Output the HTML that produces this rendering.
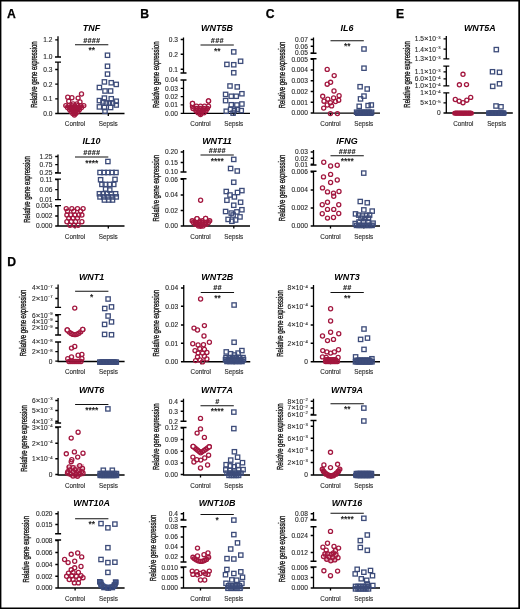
<!DOCTYPE html><html><head><meta charset="utf-8"><style>html,body{margin:0;padding:0;background:#fff;font-family:"Liberation Sans", sans-serif;}svg{display:block;will-change:transform;} .t{stroke:#2a2a2a;stroke-width:0.12px;} .yl{stroke:#1a1a1a;stroke-width:0.38px;}</style></head><body>
<svg width="520" height="609" viewBox="0 0 520 609" font-family='"Liberation Sans", sans-serif'>
<rect x="0" y="0" width="520" height="609" fill="#fff"/>
<path d="M0 0H520V1.5H0Z M0 607.5H520V609H0Z M0 0H1.4V609H0Z M518.3 0H520V609H518.3Z" fill="#000"/>
<text x="7.0" y="17.6" font-size="12.2" font-weight="bold" fill="#000" stroke="#000" stroke-width="0.25">A</text>
<text x="140.3" y="17.6" font-size="12.2" font-weight="bold" fill="#000" stroke="#000" stroke-width="0.25">B</text>
<text x="265.8" y="17.5" font-size="12.2" font-weight="bold" fill="#000" stroke="#000" stroke-width="0.25">C</text>
<text x="396.0" y="17.6" font-size="12.2" font-weight="bold" fill="#000" stroke="#000" stroke-width="0.25">E</text>
<text x="7.3" y="265.6" font-size="12.2" font-weight="bold" fill="#000" stroke="#000" stroke-width="0.25">D</text>
<text x="91.5" y="30.9" text-anchor="middle" font-size="8.95" font-weight="bold" font-style="italic" fill="#000">TNF</text>
<path d="M58 36.3V57M55 57H61M58 62.2V113.5M55 62.2H61M55.2 39.9H58M55.2 57H58M55.2 69.5H58M55.2 84.2H58M55.2 98.8H58M55.2 113.5H58M57.4 113.5H124.5M75 113.5V116.1M108.3 113.5V116.1" stroke="#000" stroke-width="1.3" fill="none"/>
<text class="t" x="52.4" y="42.2" text-anchor="end" font-size="6.6" fill="#2a2a2a">1.2</text>
<text class="t" x="52.4" y="59.3" text-anchor="end" font-size="6.6" fill="#2a2a2a">1.0</text>
<text class="t" x="52.4" y="71.8" text-anchor="end" font-size="6.6" fill="#2a2a2a">0.3</text>
<text class="t" x="52.4" y="86.5" text-anchor="end" font-size="6.6" fill="#2a2a2a">0.2</text>
<text class="t" x="52.4" y="101.1" text-anchor="end" font-size="6.6" fill="#2a2a2a">0.1</text>
<text class="t" x="52.4" y="115.8" text-anchor="end" font-size="6.6" fill="#2a2a2a">0.0</text>
<text class="yl" transform="translate(37 74.6) rotate(-90)" text-anchor="middle" font-size="8.4" textLength="66.5" lengthAdjust="spacingAndGlyphs" fill="#2a2a2a">Relative gene expression</text>
<text class="t" x="75" y="126.1" text-anchor="middle" font-size="6.3" fill="#2a2a2a">Control</text>
<text class="t" x="108.3" y="126.1" text-anchor="middle" font-size="6.3" fill="#2a2a2a">Sepsis</text>
<path d="M75 44.7H108.3" stroke="#111" stroke-width="1.1"/>
<text x="91.82" y="42.6" text-anchor="middle" font-size="7.1" font-weight="bold" font-style="italic" fill="#222" stroke="#222" stroke-width="0.15" letter-spacing="0.35">####</text>
<text x="91.65" y="53.2" text-anchor="middle" font-size="8.4" font-weight="bold" fill="#222">**</text>
<polygon points="64,105.3 85.5,105.3 80.2,110 74.6,117 69,110" fill="#b5163f" fill-opacity="0.8"/>
<g fill="none" stroke="#a3173f" stroke-width="1.3"><circle cx="81.5" cy="94" r="2.05"/><circle cx="67.75" cy="97.25" r="2.05"/><circle cx="71.9" cy="97.75" r="2.05"/><circle cx="78.1" cy="98.1" r="2.05"/><circle cx="68.75" cy="101.25" r="2.05"/><circle cx="80" cy="101.9" r="2.05"/><circle cx="73.1" cy="104" r="2.05"/><circle cx="76.9" cy="104" r="2.05"/><circle cx="65.8" cy="105.6" r="2.05"/><circle cx="68.8" cy="105.6" r="2.05"/><circle cx="71.8" cy="105.6" r="2.05"/><circle cx="74.8" cy="105.6" r="2.05"/><circle cx="77.8" cy="105.6" r="2.05"/><circle cx="80.8" cy="105.6" r="2.05"/><circle cx="83.8" cy="105.6" r="2.05"/><circle cx="67.5" cy="107.6" r="2.05"/><circle cx="70.3" cy="107.6" r="2.05"/><circle cx="73.1" cy="107.6" r="2.05"/><circle cx="75.9" cy="107.6" r="2.05"/><circle cx="78.7" cy="107.6" r="2.05"/><circle cx="81.5" cy="107.6" r="2.05"/><circle cx="69.5" cy="109.6" r="2.05"/><circle cx="72" cy="109.6" r="2.05"/><circle cx="74.5" cy="109.6" r="2.05"/><circle cx="77" cy="109.6" r="2.05"/><circle cx="79.5" cy="109.6" r="2.05"/><circle cx="71" cy="111.6" r="2.05"/><circle cx="73.33" cy="111.6" r="2.05"/><circle cx="75.66" cy="111.6" r="2.05"/><circle cx="77.99" cy="111.6" r="2.05"/><circle cx="72.8" cy="113.4" r="2.05"/><circle cx="75.8" cy="113.4" r="2.05"/><circle cx="74.4" cy="115" r="2.05"/></g>
<g fill="none" stroke="#3d4c7a" stroke-width="1.3"><rect x="105.35" y="53.1" width="4.3" height="4.3"/><rect x="105.35" y="64.1" width="4.3" height="4.3"/><rect x="105.35" y="71.95" width="4.3" height="4.3"/><rect x="102.25" y="79.75" width="4.3" height="4.3"/><rect x="109.1" y="80.6" width="4.3" height="4.3"/><rect x="114.1" y="82.25" width="4.3" height="4.3"/><rect x="97.25" y="85.35" width="4.3" height="4.3"/><rect x="102.85" y="88.85" width="4.3" height="4.3"/><rect x="108.45" y="88.85" width="4.3" height="4.3"/><rect x="102.25" y="95.95" width="4.3" height="4.3"/><rect x="109.1" y="96.6" width="4.3" height="4.3"/><rect x="97.25" y="98.45" width="4.3" height="4.3"/><rect x="114.1" y="99.1" width="4.3" height="4.3"/><rect x="100.85" y="99.75" width="4.3" height="4.3"/><rect x="104.1" y="100.95" width="4.3" height="4.3"/><rect x="107.25" y="100.95" width="4.3" height="4.3"/><rect x="110.35" y="100.95" width="4.3" height="4.3"/><rect x="114.1" y="102.85" width="4.3" height="4.3"/><rect x="97.25" y="104.75" width="4.3" height="4.3"/><rect x="102.25" y="105.35" width="4.3" height="4.3"/><rect x="108.45" y="105.35" width="4.3" height="4.3"/><rect x="102.85" y="109.1" width="4.3" height="4.3"/></g>
<text x="91.5" y="144.2" text-anchor="middle" font-size="8.95" font-weight="bold" font-style="italic" fill="#000">IL10</text>
<path d="M58 154.6V173M55 173H61M58 179.2V199.6M55 199.6H61M55 179.2H61M58 205.6V226M55 205.6H61M55.2 156.5H58M55.2 164.6H58M55.2 172.7H58M55.2 179.6H58M55.2 189.6H58M55.2 199.6H58M55.2 206H58M55.2 216H58M55.2 226H58M57.4 226H124.5M75 226V228.6M108.3 226V228.6" stroke="#000" stroke-width="1.3" fill="none"/>
<text class="t" x="52.4" y="158.8" text-anchor="end" font-size="6.6" fill="#2a2a2a">1.25</text>
<text class="t" x="52.4" y="166.9" text-anchor="end" font-size="6.6" fill="#2a2a2a">0.75</text>
<text class="t" x="52.4" y="175" text-anchor="end" font-size="6.6" fill="#2a2a2a">0.25</text>
<text class="t" x="52.4" y="181.9" text-anchor="end" font-size="6.6" fill="#2a2a2a">0.11</text>
<text class="t" x="52.4" y="191.9" text-anchor="end" font-size="6.6" fill="#2a2a2a">0.06</text>
<text class="t" x="52.4" y="201.9" text-anchor="end" font-size="6.6" fill="#2a2a2a">0.01</text>
<text class="t" x="52.4" y="208.3" text-anchor="end" font-size="6.6" fill="#2a2a2a">0.004</text>
<text class="t" x="52.4" y="218.3" text-anchor="end" font-size="6.6" fill="#2a2a2a">0.002</text>
<text class="t" x="52.4" y="228.3" text-anchor="end" font-size="6.6" fill="#2a2a2a">0.000</text>
<text class="yl" transform="translate(30.1 189.5) rotate(-90)" text-anchor="middle" font-size="8.4" textLength="66.5" lengthAdjust="spacingAndGlyphs" fill="#2a2a2a">Relative gene expression</text>
<text class="t" x="75" y="238.6" text-anchor="middle" font-size="6.3" fill="#2a2a2a">Control</text>
<text class="t" x="108.3" y="238.6" text-anchor="middle" font-size="6.3" fill="#2a2a2a">Sepsis</text>
<path d="M75 157H108.3" stroke="#111" stroke-width="1.1"/>
<text x="91.82" y="154.9" text-anchor="middle" font-size="7.1" font-weight="bold" font-style="italic" fill="#222" stroke="#222" stroke-width="0.15" letter-spacing="0.35">####</text>
<text x="91.65" y="165.5" text-anchor="middle" font-size="8.4" font-weight="bold" fill="#222">****</text>
<g fill="none" stroke="#a3173f" stroke-width="1.3"><circle cx="66.25" cy="208.6" r="2.05"/><circle cx="71.87" cy="208.6" r="2.05"/><circle cx="77.49" cy="208.6" r="2.05"/><circle cx="83.11" cy="208.6" r="2.05"/><circle cx="67.5" cy="211.25" r="2.05"/><circle cx="73.75" cy="211.25" r="2.05"/><circle cx="80.6" cy="211.25" r="2.05"/><circle cx="66.9" cy="215" r="2.05"/><circle cx="70.6" cy="215" r="2.05"/><circle cx="75" cy="215" r="2.05"/><circle cx="78.75" cy="215" r="2.05"/><circle cx="81.9" cy="215" r="2.05"/><circle cx="68.75" cy="218.1" r="2.05"/><circle cx="73.1" cy="218.1" r="2.05"/><circle cx="77.5" cy="218.1" r="2.05"/><circle cx="66.9" cy="221.75" r="2.05"/><circle cx="71.25" cy="221.75" r="2.05"/><circle cx="75.6" cy="221.75" r="2.05"/><circle cx="81.9" cy="221.75" r="2.05"/><circle cx="70" cy="225.2" r="2.05"/><circle cx="74.4" cy="225.2" r="2.05"/><circle cx="78.1" cy="225.2" r="2.05"/></g>
<g fill="none" stroke="#3d4c7a" stroke-width="1.3"><rect x="105.75" y="159.35" width="4.3" height="4.3"/><rect x="97.85" y="170.35" width="4.3" height="4.3"/><rect x="101.85" y="170.35" width="4.3" height="4.3"/><rect x="105.85" y="170.35" width="4.3" height="4.3"/><rect x="109.85" y="170.35" width="4.3" height="4.3"/><rect x="113.85" y="170.35" width="4.3" height="4.3"/><rect x="98.45" y="177.6" width="4.3" height="4.3"/><rect x="112.85" y="177.25" width="4.3" height="4.3"/><rect x="99.75" y="182.25" width="4.3" height="4.3"/><rect x="103.1" y="182.25" width="4.3" height="4.3"/><rect x="107.85" y="182.25" width="4.3" height="4.3"/><rect x="111.6" y="182.25" width="4.3" height="4.3"/><rect x="103.45" y="186.85" width="4.3" height="4.3"/><rect x="107.6" y="187.85" width="4.3" height="4.3"/><rect x="97.25" y="191.6" width="4.3" height="4.3"/><rect x="100.95" y="191.6" width="4.3" height="4.3"/><rect x="104.75" y="191.6" width="4.3" height="4.3"/><rect x="109.1" y="191.6" width="4.3" height="4.3"/><rect x="113.45" y="191.6" width="4.3" height="4.3"/><rect x="97.85" y="194.75" width="4.3" height="4.3"/><rect x="101.6" y="194.75" width="4.3" height="4.3"/><rect x="105.95" y="194.75" width="4.3" height="4.3"/><rect x="110.35" y="194.75" width="4.3" height="4.3"/><rect x="114.1" y="194.75" width="4.3" height="4.3"/><rect x="102.25" y="197.85" width="4.3" height="4.3"/><rect x="106.6" y="197.85" width="4.3" height="4.3"/><rect x="110.35" y="197.85" width="4.3" height="4.3"/></g>
<text x="217" y="30.8" text-anchor="middle" font-size="8.95" font-weight="bold" font-style="italic" fill="#000">WNT5B</text>
<path d="M183.5 37.5V73M180.5 73H186.5M183.5 80V113.4M180.5 80H186.5M180.7 39.5H183.5M180.7 54.25H183.5M180.7 69.25H183.5M180.7 80H183.5M180.7 88.3H183.5M180.7 96.6H183.5M180.7 104.9H183.5M180.7 113.3H183.5M182.9 113.4H250M200.5 113.4V116M233.8 113.4V116" stroke="#000" stroke-width="1.3" fill="none"/>
<text class="t" x="177.9" y="41.8" text-anchor="end" font-size="6.6" fill="#2a2a2a">0.3</text>
<text class="t" x="177.9" y="56.55" text-anchor="end" font-size="6.6" fill="#2a2a2a">0.2</text>
<text class="t" x="177.9" y="71.55" text-anchor="end" font-size="6.6" fill="#2a2a2a">0.1</text>
<text class="t" x="177.9" y="82.3" text-anchor="end" font-size="6.6" fill="#2a2a2a">0.04</text>
<text class="t" x="177.9" y="90.6" text-anchor="end" font-size="6.6" fill="#2a2a2a">0.03</text>
<text class="t" x="177.9" y="98.9" text-anchor="end" font-size="6.6" fill="#2a2a2a">0.02</text>
<text class="t" x="177.9" y="107.2" text-anchor="end" font-size="6.6" fill="#2a2a2a">0.01</text>
<text class="t" x="177.9" y="115.6" text-anchor="end" font-size="6.6" fill="#2a2a2a">0.00</text>
<text class="yl" transform="translate(159.3 74.8) rotate(-90)" text-anchor="middle" font-size="8.4" textLength="66.5" lengthAdjust="spacingAndGlyphs" fill="#2a2a2a">Relative gene expression</text>
<text class="t" x="200.5" y="126" text-anchor="middle" font-size="6.3" fill="#2a2a2a">Control</text>
<text class="t" x="233.8" y="126" text-anchor="middle" font-size="6.3" fill="#2a2a2a">Sepsis</text>
<path d="M200.5 45H233.8" stroke="#111" stroke-width="1.1"/>
<text x="217.32" y="42.9" text-anchor="middle" font-size="7.1" font-weight="bold" font-style="italic" fill="#222" stroke="#222" stroke-width="0.15" letter-spacing="0.35">###</text>
<text x="217.15" y="53.5" text-anchor="middle" font-size="8.4" font-weight="bold" fill="#222">**</text>
<polygon points="190.8,107.2 210.8,107.2 207,111.5 200.5,116.6 194,111.5" fill="#b5163f" fill-opacity="0.75"/>
<g fill="none" stroke="#a3173f" stroke-width="1.3"><circle cx="192.5" cy="103.5" r="2.05"/><circle cx="208.5" cy="101" r="2.05"/><circle cx="192.5" cy="106.2" r="2.05"/><circle cx="196.5" cy="106.2" r="2.05"/><circle cx="200.5" cy="106.2" r="2.05"/><circle cx="204.5" cy="106.2" r="2.05"/><circle cx="208.5" cy="106.2" r="2.05"/><circle cx="193" cy="108.5" r="2.05"/><circle cx="196.6" cy="108.5" r="2.05"/><circle cx="200.2" cy="108.5" r="2.05"/><circle cx="203.8" cy="108.5" r="2.05"/><circle cx="207.4" cy="108.5" r="2.05"/><circle cx="196" cy="110.8" r="2.05"/><circle cx="199.33" cy="110.8" r="2.05"/><circle cx="202.66" cy="110.8" r="2.05"/><circle cx="205.99" cy="110.8" r="2.05"/><circle cx="198" cy="112.8" r="2.05"/><circle cx="201" cy="112.8" r="2.05"/><circle cx="204" cy="112.8" r="2.05"/><circle cx="200.5" cy="114.5" r="2.05"/></g>
<g fill="none" stroke="#3d4c7a" stroke-width="1.3"><rect x="231.6" y="49.75" width="4.3" height="4.3"/><rect x="238.45" y="59.1" width="4.3" height="4.3"/><rect x="224.75" y="62.25" width="4.3" height="4.3"/><rect x="231.6" y="62.6" width="4.3" height="4.3"/><rect x="231.6" y="70.6" width="4.3" height="4.3"/><rect x="227.85" y="83.85" width="4.3" height="4.3"/><rect x="235.1" y="84.75" width="4.3" height="4.3"/><rect x="223.45" y="92.25" width="4.3" height="4.3"/><rect x="239.75" y="91.6" width="4.3" height="4.3"/><rect x="229.1" y="94.1" width="4.3" height="4.3"/><rect x="234.1" y="94.1" width="4.3" height="4.3"/><rect x="223.45" y="98.45" width="4.3" height="4.3"/><rect x="229.1" y="102.6" width="4.3" height="4.3"/><rect x="234.75" y="102.85" width="4.3" height="4.3"/><rect x="239.75" y="101.85" width="4.3" height="4.3"/><rect x="224.1" y="109.1" width="4.3" height="4.3"/><rect x="228.45" y="107.25" width="4.3" height="4.3"/><rect x="232.25" y="108.45" width="4.3" height="4.3"/><rect x="235.35" y="107.25" width="4.3" height="4.3"/><rect x="239.1" y="108.45" width="4.3" height="4.3"/><rect x="230.95" y="110.95" width="4.3" height="4.3"/></g>
<g fill="#fff" stroke="#a3173f" stroke-width="1.3"><circle cx="192.5" cy="103.5" r="2.05"/><circle cx="208.5" cy="101" r="2.05"/></g>
<text x="217" y="143.9" text-anchor="middle" font-size="8.95" font-weight="bold" font-style="italic" fill="#000">WNT11</text>
<path d="M183.5 150V172M180.5 172H186.5M183.5 178.75V226M180.5 178.75H186.5M180.7 152H183.5M180.7 162.5H183.5M180.7 172H183.5M180.7 179.25H183.5M180.7 195H183.5M180.7 210.5H183.5M180.7 226H183.5M182.9 226H250M200.5 226V228.6M233.8 226V228.6" stroke="#000" stroke-width="1.3" fill="none"/>
<text class="t" x="177.9" y="154.3" text-anchor="end" font-size="6.6" fill="#2a2a2a">0.20</text>
<text class="t" x="177.9" y="164.8" text-anchor="end" font-size="6.6" fill="#2a2a2a">0.15</text>
<text class="t" x="177.9" y="174.3" text-anchor="end" font-size="6.6" fill="#2a2a2a">0.10</text>
<text class="t" x="177.9" y="181.55" text-anchor="end" font-size="6.6" fill="#2a2a2a">0.06</text>
<text class="t" x="177.9" y="197.3" text-anchor="end" font-size="6.6" fill="#2a2a2a">0.04</text>
<text class="t" x="177.9" y="212.8" text-anchor="end" font-size="6.6" fill="#2a2a2a">0.02</text>
<text class="t" x="177.9" y="228.3" text-anchor="end" font-size="6.6" fill="#2a2a2a">0.00</text>
<text class="yl" transform="translate(158.9 188.2) rotate(-90)" text-anchor="middle" font-size="8.4" textLength="66.5" lengthAdjust="spacingAndGlyphs" fill="#2a2a2a">Relative gene expression</text>
<text class="t" x="200.5" y="238.6" text-anchor="middle" font-size="6.3" fill="#2a2a2a">Control</text>
<text class="t" x="233.8" y="238.6" text-anchor="middle" font-size="6.3" fill="#2a2a2a">Sepsis</text>
<path d="M200.5 155H233.8" stroke="#111" stroke-width="1.1"/>
<text x="217.32" y="152.9" text-anchor="middle" font-size="7.1" font-weight="bold" font-style="italic" fill="#222" stroke="#222" stroke-width="0.15" letter-spacing="0.35">####</text>
<text x="217.15" y="163.5" text-anchor="middle" font-size="8.4" font-weight="bold" fill="#222">****</text>
<polygon points="190.2,219.6 211.8,219.6 207,225 200.7,228.9 194.5,225" fill="#b5163f" fill-opacity="0.8"/>
<g fill="none" stroke="#a3173f" stroke-width="1.3"><circle cx="200.6" cy="200.25" r="2.05"/><circle cx="197" cy="218.6" r="2.05"/><circle cx="205.6" cy="218.4" r="2.05"/><circle cx="192.2" cy="220.8" r="2.05"/><circle cx="195.7" cy="220.8" r="2.05"/><circle cx="199.2" cy="220.8" r="2.05"/><circle cx="202.7" cy="220.8" r="2.05"/><circle cx="206.2" cy="220.8" r="2.05"/><circle cx="209.7" cy="220.8" r="2.05"/><circle cx="193.4" cy="222.6" r="2.05"/><circle cx="196.4" cy="222.6" r="2.05"/><circle cx="199.4" cy="222.6" r="2.05"/><circle cx="202.4" cy="222.6" r="2.05"/><circle cx="205.4" cy="222.6" r="2.05"/><circle cx="208.4" cy="222.6" r="2.05"/><circle cx="195.5" cy="224.4" r="2.05"/><circle cx="199" cy="224.4" r="2.05"/><circle cx="202.5" cy="224.4" r="2.05"/><circle cx="206" cy="224.4" r="2.05"/><circle cx="198.5" cy="226" r="2.05"/><circle cx="200.75" cy="226" r="2.05"/><circle cx="203" cy="226" r="2.05"/></g>
<g fill="none" stroke="#3d4c7a" stroke-width="1.3"><rect x="231.6" y="157.25" width="4.3" height="4.3"/><rect x="228.45" y="166.35" width="4.3" height="4.3"/><rect x="235.1" y="168.85" width="4.3" height="4.3"/><rect x="231.6" y="180.1" width="4.3" height="4.3"/><rect x="224.1" y="189.35" width="4.3" height="4.3"/><rect x="239.75" y="188.45" width="4.3" height="4.3"/><rect x="235.35" y="190.35" width="4.3" height="4.3"/><rect x="227.85" y="192.85" width="4.3" height="4.3"/><rect x="232.25" y="194.75" width="4.3" height="4.3"/><rect x="224.75" y="198.1" width="4.3" height="4.3"/><rect x="238.45" y="200.1" width="4.3" height="4.3"/><rect x="231.6" y="203.1" width="4.3" height="4.3"/><rect x="223.45" y="209.35" width="4.3" height="4.3"/><rect x="239.75" y="207.6" width="4.3" height="4.3"/><rect x="229.1" y="210.95" width="4.3" height="4.3"/><rect x="234.75" y="209.75" width="4.3" height="4.3"/><rect x="230.95" y="212.85" width="4.3" height="4.3"/><rect x="237.85" y="214.75" width="4.3" height="4.3"/><rect x="225.95" y="217.25" width="4.3" height="4.3"/><rect x="229.75" y="219.1" width="4.3" height="4.3"/><rect x="233.45" y="217.85" width="4.3" height="4.3"/></g>
<g fill="#fff" stroke="#a3173f" stroke-width="1.3"><circle cx="197" cy="218.6" r="2.05"/><circle cx="205.6" cy="218.4" r="2.05"/></g>
<text x="347" y="31" text-anchor="middle" font-size="8.95" font-weight="bold" font-style="italic" fill="#000">IL6</text>
<path d="M313.5 37.5V53.25M310.5 53.25H316.5M313.5 58.75V113.2M310.5 58.75H316.5M310.7 39.5H313.5M310.7 46.25H313.5M310.7 53H313.5M310.7 59.25H313.5M310.7 70H313.5M310.7 80.75H313.5M310.7 91.5H313.5M310.7 102.25H313.5M310.7 113H313.5M312.9 113.2H380M330.5 113.2V115.8M363.8 113.2V115.8" stroke="#000" stroke-width="1.3" fill="none"/>
<text class="t" x="307.9" y="41.8" text-anchor="end" font-size="6.6" fill="#2a2a2a">0.07</text>
<text class="t" x="307.9" y="48.55" text-anchor="end" font-size="6.6" fill="#2a2a2a">0.06</text>
<text class="t" x="307.9" y="55.3" text-anchor="end" font-size="6.6" fill="#2a2a2a">0.05</text>
<text class="t" x="307.9" y="61.55" text-anchor="end" font-size="6.6" fill="#2a2a2a">0.005</text>
<text class="t" x="307.9" y="72.3" text-anchor="end" font-size="6.6" fill="#2a2a2a">0.004</text>
<text class="t" x="307.9" y="83.05" text-anchor="end" font-size="6.6" fill="#2a2a2a">0.003</text>
<text class="t" x="307.9" y="93.8" text-anchor="end" font-size="6.6" fill="#2a2a2a">0.002</text>
<text class="t" x="307.9" y="104.55" text-anchor="end" font-size="6.6" fill="#2a2a2a">0.001</text>
<text class="t" x="307.9" y="115.3" text-anchor="end" font-size="6.6" fill="#2a2a2a">0.000</text>
<text class="yl" transform="translate(285.4 75) rotate(-90)" text-anchor="middle" font-size="8.4" textLength="66.5" lengthAdjust="spacingAndGlyphs" fill="#2a2a2a">Relative gene expression</text>
<text class="t" x="330.5" y="125.8" text-anchor="middle" font-size="6.3" fill="#2a2a2a">Control</text>
<text class="t" x="363.8" y="125.8" text-anchor="middle" font-size="6.3" fill="#2a2a2a">Sepsis</text>
<path d="M330.5 40.75H363.8" stroke="#111" stroke-width="1.1"/>
<text x="347.15" y="49.25" text-anchor="middle" font-size="8.4" font-weight="bold" fill="#222">**</text>
<rect x="354.3" y="110.8" width="19.7" height="4.5" rx="1.5" fill="#2c4584" fill-opacity="0.45"/>
<g fill="none" stroke="#a3173f" stroke-width="1.3"><circle cx="327.2" cy="69.4" r="2.05"/><circle cx="334.2" cy="75.6" r="2.05"/><circle cx="327.2" cy="84.2" r="2.05"/><circle cx="330.6" cy="82.3" r="2.05"/><circle cx="334" cy="91" r="2.05"/><circle cx="322.7" cy="96.3" r="2.05"/><circle cx="339.1" cy="95.7" r="2.05"/><circle cx="327.8" cy="99.2" r="2.05"/><circle cx="333.6" cy="97.9" r="2.05"/><circle cx="324" cy="101.2" r="2.05"/><circle cx="330.4" cy="102.7" r="2.05"/><circle cx="335.5" cy="101.5" r="2.05"/><circle cx="338.7" cy="100.2" r="2.05"/><circle cx="327.2" cy="105" r="2.05"/><circle cx="331.6" cy="105.9" r="2.05"/><circle cx="323.7" cy="108.1" r="2.05"/><circle cx="330.4" cy="113.6" r="2.05"/><circle cx="337.4" cy="113.6" r="2.05"/></g>
<g fill="none" stroke="#3d4c7a" stroke-width="1.3"><rect x="361.85" y="46.85" width="4.3" height="4.3"/><rect x="361.85" y="66.05" width="4.3" height="4.3"/><rect x="357.95" y="84.55" width="4.3" height="4.3"/><rect x="365.05" y="86.85" width="4.3" height="4.3"/><rect x="361.85" y="93.95" width="4.3" height="4.3"/><rect x="358.35" y="96.75" width="4.3" height="4.3"/><rect x="357.05" y="104.15" width="4.3" height="4.3"/><rect x="365.95" y="103.45" width="4.3" height="4.3"/><rect x="369.15" y="102.85" width="4.3" height="4.3"/><rect x="354.45" y="110.05" width="4.3" height="4.3"/><rect x="356.95" y="110.05" width="4.3" height="4.3"/><rect x="359.45" y="110.05" width="4.3" height="4.3"/><rect x="361.95" y="110.05" width="4.3" height="4.3"/><rect x="364.45" y="110.05" width="4.3" height="4.3"/><rect x="366.95" y="110.05" width="4.3" height="4.3"/><rect x="369.45" y="110.05" width="4.3" height="4.3"/><rect x="355.65" y="111.05" width="4.3" height="4.3"/><rect x="358.25" y="111.05" width="4.3" height="4.3"/><rect x="360.85" y="111.05" width="4.3" height="4.3"/><rect x="363.45" y="111.05" width="4.3" height="4.3"/><rect x="366.05" y="111.05" width="4.3" height="4.3"/><rect x="368.65" y="111.05" width="4.3" height="4.3"/></g>
<text x="347" y="143.9" text-anchor="middle" font-size="8.95" font-weight="bold" font-style="italic" fill="#000">IFNG</text>
<path d="M313.5 150V165M310.5 165H316.5M313.5 171.25V226M310.5 171.25H316.5M310.7 152H313.5M310.7 158.25H313.5M310.7 164.25H313.5M310.7 172H313.5M310.7 190H313.5M310.7 208H313.5M310.7 226H313.5M312.9 226H380M330.5 226V228.6M363.8 226V228.6" stroke="#000" stroke-width="1.3" fill="none"/>
<text class="t" x="307.9" y="154.3" text-anchor="end" font-size="6.6" fill="#2a2a2a">0.03</text>
<text class="t" x="307.9" y="160.55" text-anchor="end" font-size="6.6" fill="#2a2a2a">0.02</text>
<text class="t" x="307.9" y="166.55" text-anchor="end" font-size="6.6" fill="#2a2a2a">0.01</text>
<text class="t" x="307.9" y="174.3" text-anchor="end" font-size="6.6" fill="#2a2a2a">0.006</text>
<text class="t" x="307.9" y="192.3" text-anchor="end" font-size="6.6" fill="#2a2a2a">0.004</text>
<text class="t" x="307.9" y="210.3" text-anchor="end" font-size="6.6" fill="#2a2a2a">0.002</text>
<text class="t" x="307.9" y="228.3" text-anchor="end" font-size="6.6" fill="#2a2a2a">0.000</text>
<text class="yl" transform="translate(285.4 187.9) rotate(-90)" text-anchor="middle" font-size="8.4" textLength="66.5" lengthAdjust="spacingAndGlyphs" fill="#2a2a2a">Relative gene expression</text>
<text class="t" x="330.5" y="238.6" text-anchor="middle" font-size="6.3" fill="#2a2a2a">Control</text>
<text class="t" x="363.8" y="238.6" text-anchor="middle" font-size="6.3" fill="#2a2a2a">Sepsis</text>
<path d="M330.5 155.75H363.8" stroke="#111" stroke-width="1.1"/>
<text x="347.32" y="153.65" text-anchor="middle" font-size="7.1" font-weight="bold" font-style="italic" fill="#222" stroke="#222" stroke-width="0.15" letter-spacing="0.35">####</text>
<text x="347.15" y="164.25" text-anchor="middle" font-size="8.4" font-weight="bold" fill="#222">****</text>
<rect x="354" y="223.6" width="20.5" height="4" rx="1.5" fill="#2c4584" fill-opacity="0.55"/>
<g fill="none" stroke="#a3173f" stroke-width="1.3"><circle cx="323.75" cy="162.25" r="2.05"/><circle cx="330.6" cy="166" r="2.05"/><circle cx="337.25" cy="165.25" r="2.05"/><circle cx="330.6" cy="174.4" r="2.05"/><circle cx="323.5" cy="176.9" r="2.05"/><circle cx="337.25" cy="180" r="2.05"/><circle cx="330.6" cy="182.5" r="2.05"/><circle cx="322.5" cy="187.9" r="2.05"/><circle cx="327.5" cy="191.9" r="2.05"/><circle cx="333.5" cy="193.1" r="2.05"/><circle cx="339" cy="191.5" r="2.05"/><circle cx="333.75" cy="196.25" r="2.05"/><circle cx="327.5" cy="202.25" r="2.05"/><circle cx="322.25" cy="204.75" r="2.05"/><circle cx="338.75" cy="204.75" r="2.05"/><circle cx="327.5" cy="209.4" r="2.05"/><circle cx="333.75" cy="209.4" r="2.05"/><circle cx="322.25" cy="213.75" r="2.05"/><circle cx="338.75" cy="213.5" r="2.05"/><circle cx="327.5" cy="218.1" r="2.05"/><circle cx="333.5" cy="217.5" r="2.05"/></g>
<g fill="none" stroke="#3d4c7a" stroke-width="1.3"><rect x="361.6" y="170.95" width="4.3" height="4.3"/><rect x="358.1" y="199.35" width="4.3" height="4.3"/><rect x="365.1" y="200.6" width="4.3" height="4.3"/><rect x="361.7" y="207.75" width="4.3" height="4.3"/><rect x="370.05" y="208.95" width="4.3" height="4.3"/><rect x="353.35" y="211.75" width="4.3" height="4.3"/><rect x="356.55" y="212.95" width="4.3" height="4.3"/><rect x="360.25" y="213.85" width="4.3" height="4.3"/><rect x="364.55" y="213.25" width="4.3" height="4.3"/><rect x="367.45" y="212.95" width="4.3" height="4.3"/><rect x="358.85" y="216.15" width="4.3" height="4.3"/><rect x="362.85" y="216.45" width="4.3" height="4.3"/><rect x="366.35" y="216.15" width="4.3" height="4.3"/><rect x="353.05" y="221.35" width="4.3" height="4.3"/><rect x="370.95" y="221.05" width="4.3" height="4.3"/><rect x="356.85" y="219.85" width="4.3" height="4.3"/><rect x="361.35" y="219.65" width="4.3" height="4.3"/><rect x="365.85" y="219.85" width="4.3" height="4.3"/><rect x="354.35" y="223.25" width="4.3" height="4.3"/><rect x="356.95" y="223.25" width="4.3" height="4.3"/><rect x="359.55" y="223.25" width="4.3" height="4.3"/><rect x="362.15" y="223.25" width="4.3" height="4.3"/><rect x="364.75" y="223.25" width="4.3" height="4.3"/><rect x="367.35" y="223.25" width="4.3" height="4.3"/><rect x="369.95" y="223.25" width="4.3" height="4.3"/></g>
<text x="479.8" y="30.9" text-anchor="middle" font-size="8.95" font-weight="bold" font-style="italic" fill="#000">WNT5A</text>
<path d="M446.3 36V58.8M443.3 58.8H449.3M446.3 66.1V85.9M443.3 85.9H449.3M443.3 66.1H449.3M446.3 92.8V113M443.3 92.8H449.3M443.5 38.8H446.3M443.5 49.2H446.3M443.5 58.8H446.3M443.5 71.9H446.3M443.5 78.8H446.3M443.5 85.9H446.3M443.5 92.8H446.3M443.5 102.9H446.3M443.5 113H446.3M445.7 113H512.8M463.3 113V115.6M496.6 113V115.6" stroke="#000" stroke-width="1.3" fill="none"/>
<text class="t" x="440.7" y="41.1" text-anchor="end" font-size="6.6" fill="#2a2a2a">1.5<tspan font-size="7.92">×</tspan>10<tspan font-size="4.22" dy="-2.4">−3</tspan></text>
<text class="t" x="440.7" y="51.5" text-anchor="end" font-size="6.6" fill="#2a2a2a">1.4<tspan font-size="7.92">×</tspan>10<tspan font-size="4.22" dy="-2.4">−3</tspan></text>
<text class="t" x="440.7" y="61.1" text-anchor="end" font-size="6.6" fill="#2a2a2a">1.3<tspan font-size="7.92">×</tspan>10<tspan font-size="4.22" dy="-2.4">−3</tspan></text>
<text class="t" x="440.7" y="74.2" text-anchor="end" font-size="6.6" fill="#2a2a2a">1.1<tspan font-size="7.92">×</tspan>10<tspan font-size="4.22" dy="-2.4">−3</tspan></text>
<text class="t" x="440.7" y="81.1" text-anchor="end" font-size="6.6" fill="#2a2a2a">6.0<tspan font-size="7.92">×</tspan>10<tspan font-size="4.22" dy="-2.4">−4</tspan></text>
<text class="t" x="440.7" y="88.2" text-anchor="end" font-size="6.6" fill="#2a2a2a">1.0<tspan font-size="7.92">×</tspan>10<tspan font-size="4.22" dy="-2.4">−4</tspan></text>
<text class="t" x="440.7" y="95.1" text-anchor="end" font-size="6.6" fill="#2a2a2a">1<tspan font-size="7.92">×</tspan>10<tspan font-size="4.22" dy="-2.4">−4</tspan></text>
<text class="t" x="440.7" y="105.2" text-anchor="end" font-size="6.6" fill="#2a2a2a">5<tspan font-size="7.92">×</tspan>10<tspan font-size="4.22" dy="-2.4">−5</tspan></text>
<text class="t" x="440.7" y="115.3" text-anchor="end" font-size="6.6" fill="#2a2a2a">0</text>
<text class="yl" transform="translate(409.7 74.4) rotate(-90)" text-anchor="middle" font-size="8.4" textLength="66.5" lengthAdjust="spacingAndGlyphs" fill="#2a2a2a">Relative gene expression</text>
<text class="t" x="463.3" y="125.6" text-anchor="middle" font-size="6.3" fill="#2a2a2a">Control</text>
<text class="t" x="496.6" y="125.6" text-anchor="middle" font-size="6.3" fill="#2a2a2a">Sepsis</text>
<rect x="452.3" y="110.9" width="21.5" height="4.5" rx="1.5" fill="#b5163f" fill-opacity="0.9"/>
<rect x="486" y="111" width="20.8" height="4.3" rx="1.5" fill="#2c4584" fill-opacity="0.85"/>
<g fill="none" stroke="#a3173f" stroke-width="1.3"><circle cx="463" cy="74.3" r="2.05"/><circle cx="459.4" cy="84.8" r="2.05"/><circle cx="466.5" cy="84.6" r="2.05"/><circle cx="455.3" cy="99.5" r="2.05"/><circle cx="459.2" cy="101.2" r="2.05"/><circle cx="463" cy="102.7" r="2.05"/><circle cx="466.8" cy="100.2" r="2.05"/><circle cx="470.7" cy="97.4" r="2.05"/><circle cx="455.2" cy="113.1" r="2.05"/><circle cx="456.5" cy="113.1" r="2.05"/><circle cx="457.8" cy="113.1" r="2.05"/><circle cx="459.1" cy="113.1" r="2.05"/><circle cx="460.4" cy="113.1" r="2.05"/><circle cx="461.7" cy="113.1" r="2.05"/><circle cx="463" cy="113.1" r="2.05"/><circle cx="464.3" cy="113.1" r="2.05"/><circle cx="465.6" cy="113.1" r="2.05"/><circle cx="466.9" cy="113.1" r="2.05"/><circle cx="468.2" cy="113.1" r="2.05"/><circle cx="469.5" cy="113.1" r="2.05"/><circle cx="470.8" cy="113.1" r="2.05"/></g>
<g fill="none" stroke="#3d4c7a" stroke-width="1.3"><rect x="494.15" y="47.45" width="4.3" height="4.3"/><rect x="490.35" y="69.6" width="4.3" height="4.3"/><rect x="497.35" y="70.15" width="4.3" height="4.3"/><rect x="490.55" y="84.2" width="4.3" height="4.3"/><rect x="497.35" y="81.65" width="4.3" height="4.3"/><rect x="493.85" y="103.85" width="4.3" height="4.3"/><rect x="498.85" y="104.65" width="4.3" height="4.3"/><rect x="486.85" y="110.95" width="4.3" height="4.3"/><rect x="488.3" y="110.95" width="4.3" height="4.3"/><rect x="489.75" y="110.95" width="4.3" height="4.3"/><rect x="491.2" y="110.95" width="4.3" height="4.3"/><rect x="492.65" y="110.95" width="4.3" height="4.3"/><rect x="494.1" y="110.95" width="4.3" height="4.3"/><rect x="495.55" y="110.95" width="4.3" height="4.3"/><rect x="497" y="110.95" width="4.3" height="4.3"/><rect x="498.45" y="110.95" width="4.3" height="4.3"/><rect x="499.9" y="110.95" width="4.3" height="4.3"/><rect x="501.35" y="110.95" width="4.3" height="4.3"/></g>
<text x="91.6" y="280.4" text-anchor="middle" font-size="8.95" font-weight="bold" font-style="italic" fill="#000">WNT1</text>
<path d="M58.1 284.4V307.3M55.1 307.3H61.1M58.1 314.7V335M55.1 335H61.1M55.1 314.7H61.1M58.1 342V361.5M55.1 342H61.1M55.3 288.1H58.1M55.3 298.5H58.1M55.3 315.5H58.1M55.3 321.4H58.1M55.3 328H58.1M55.3 342H58.1M55.3 351.6H58.1M55.3 361.2H58.1M57.5 361.5H124.6M75.1 361.5V364.1M108.4 361.5V364.1" stroke="#000" stroke-width="1.3" fill="none"/>
<text class="t" x="52.5" y="290.4" text-anchor="end" font-size="6.6" fill="#2a2a2a">4<tspan font-size="7.92">×</tspan>10<tspan font-size="4.22" dy="-2.4">−7</tspan></text>
<text class="t" x="52.5" y="300.8" text-anchor="end" font-size="6.6" fill="#2a2a2a">2<tspan font-size="7.92">×</tspan>10<tspan font-size="4.22" dy="-2.4">−7</tspan></text>
<text class="t" x="52.5" y="317.8" text-anchor="end" font-size="6.6" fill="#2a2a2a">6<tspan font-size="7.92">×</tspan>10<tspan font-size="4.22" dy="-2.4">−9</tspan></text>
<text class="t" x="52.5" y="323.7" text-anchor="end" font-size="6.6" fill="#2a2a2a">4<tspan font-size="7.92">×</tspan>10<tspan font-size="4.22" dy="-2.4">−9</tspan></text>
<text class="t" x="52.5" y="330.3" text-anchor="end" font-size="6.6" fill="#2a2a2a">2<tspan font-size="7.92">×</tspan>10<tspan font-size="4.22" dy="-2.4">−9</tspan></text>
<text class="t" x="52.5" y="344.3" text-anchor="end" font-size="6.6" fill="#2a2a2a">4<tspan font-size="7.92">×</tspan>10<tspan font-size="4.22" dy="-2.4">−8</tspan></text>
<text class="t" x="52.5" y="353.9" text-anchor="end" font-size="6.6" fill="#2a2a2a">2<tspan font-size="7.92">×</tspan>10<tspan font-size="4.22" dy="-2.4">−8</tspan></text>
<text class="t" x="52.5" y="363.5" text-anchor="end" font-size="6.6" fill="#2a2a2a">0</text>
<text class="yl" transform="translate(26.4 323) rotate(-90)" text-anchor="middle" font-size="8.4" textLength="66.5" lengthAdjust="spacingAndGlyphs" fill="#2a2a2a">Relative gene expression</text>
<text class="t" x="75.1" y="374.1" text-anchor="middle" font-size="6.3" fill="#2a2a2a">Control</text>
<text class="t" x="108.4" y="374.1" text-anchor="middle" font-size="6.3" fill="#2a2a2a">Sepsis</text>
<path d="M75.1 291.25H108.4" stroke="#111" stroke-width="1.1"/>
<text x="91.75" y="299.75" text-anchor="middle" font-size="8.4" font-weight="bold" fill="#222">*</text>
<path d="M67.5 330.8Q75 339.8 82.5 330.3" fill="none" stroke="#b5163f" stroke-width="2.0" stroke-opacity="0.35" stroke-linecap="round"/>
<rect x="67.3" y="359.8" width="15.3" height="3.8" rx="1.5" fill="#b5163f" fill-opacity="0.15"/>
<rect x="98" y="360.2" width="20" height="4.2" rx="1.5" fill="#2c4584" fill-opacity="0.9"/>
<g fill="none" stroke="#a3173f" stroke-width="1.3"><circle cx="74.75" cy="308.1" r="2.05"/><circle cx="67.25" cy="330" r="2.05"/><circle cx="69.19" cy="332.09" r="2.05"/><circle cx="71.12" cy="333.56" r="2.05"/><circle cx="73.06" cy="334.42" r="2.05"/><circle cx="75" cy="334.65" r="2.05"/><circle cx="76.94" cy="334.27" r="2.05"/><circle cx="78.88" cy="333.26" r="2.05"/><circle cx="80.81" cy="331.64" r="2.05"/><circle cx="82.75" cy="329.4" r="2.05"/><circle cx="71.5" cy="348.1" r="2.05"/><circle cx="74.75" cy="346.5" r="2.05"/><circle cx="67.75" cy="358.75" r="2.05"/><circle cx="71.5" cy="356.9" r="2.05"/><circle cx="78.1" cy="355.25" r="2.05"/><circle cx="81.9" cy="354.4" r="2.05"/><circle cx="81.9" cy="358.75" r="2.05"/><circle cx="69" cy="361.5" r="2.05"/><circle cx="71" cy="361.5" r="2.05"/><circle cx="73" cy="361.5" r="2.05"/><circle cx="75" cy="361.5" r="2.05"/><circle cx="77" cy="361.5" r="2.05"/><circle cx="79" cy="361.5" r="2.05"/><circle cx="81" cy="361.5" r="2.05"/></g>
<g fill="none" stroke="#3d4c7a" stroke-width="1.3"><rect x="105.95" y="296.85" width="4.3" height="4.3"/><rect x="102.6" y="306.35" width="4.3" height="4.3"/><rect x="109.35" y="304.75" width="4.3" height="4.3"/><rect x="105.95" y="313.85" width="4.3" height="4.3"/><rect x="109.35" y="319.75" width="4.3" height="4.3"/><rect x="102.45" y="322.25" width="4.3" height="4.3"/><rect x="102.45" y="332.25" width="4.3" height="4.3"/><rect x="109.35" y="332.6" width="4.3" height="4.3"/><rect x="97.65" y="359.95" width="4.3" height="4.3"/><rect x="99.15" y="359.95" width="4.3" height="4.3"/><rect x="100.65" y="359.95" width="4.3" height="4.3"/><rect x="102.15" y="359.95" width="4.3" height="4.3"/><rect x="103.65" y="359.95" width="4.3" height="4.3"/><rect x="105.15" y="359.95" width="4.3" height="4.3"/><rect x="106.65" y="359.95" width="4.3" height="4.3"/><rect x="108.15" y="359.95" width="4.3" height="4.3"/><rect x="109.65" y="359.95" width="4.3" height="4.3"/><rect x="111.15" y="359.95" width="4.3" height="4.3"/><rect x="112.65" y="359.95" width="4.3" height="4.3"/><rect x="114.15" y="359.95" width="4.3" height="4.3"/></g>
<g fill="#fff" stroke="#a3173f" stroke-width="1.3"><circle cx="67.25" cy="330" r="2.05"/><circle cx="82.75" cy="329.4" r="2.05"/></g>
<text x="217.25" y="280.4" text-anchor="middle" font-size="8.95" font-weight="bold" font-style="italic" fill="#000">WNT2B</text>
<path d="M183.75 285V361.75M180.95 288H183.75M180.95 306.25H183.75M180.95 325H183.75M180.95 343.25H183.75M180.95 361.75H183.75M183.15 361.75H250.25M200.75 361.75V364.35M234.05 361.75V364.35" stroke="#000" stroke-width="1.3" fill="none"/>
<text class="t" x="178.15" y="290.3" text-anchor="end" font-size="6.6" fill="#2a2a2a">0.04</text>
<text class="t" x="178.15" y="308.55" text-anchor="end" font-size="6.6" fill="#2a2a2a">0.03</text>
<text class="t" x="178.15" y="327.3" text-anchor="end" font-size="6.6" fill="#2a2a2a">0.02</text>
<text class="t" x="178.15" y="345.55" text-anchor="end" font-size="6.6" fill="#2a2a2a">0.01</text>
<text class="t" x="178.15" y="364.05" text-anchor="end" font-size="6.6" fill="#2a2a2a">0.00</text>
<text class="yl" transform="translate(158.9 323.2) rotate(-90)" text-anchor="middle" font-size="8.4" textLength="66.5" lengthAdjust="spacingAndGlyphs" fill="#2a2a2a">Relative gene expression</text>
<text class="t" x="200.75" y="374.35" text-anchor="middle" font-size="6.3" fill="#2a2a2a">Control</text>
<text class="t" x="234.05" y="374.35" text-anchor="middle" font-size="6.3" fill="#2a2a2a">Sepsis</text>
<path d="M200.75 292.5H234.05" stroke="#111" stroke-width="1.1"/>
<text x="217.57" y="290.4" text-anchor="middle" font-size="7.1" font-weight="bold" font-style="italic" fill="#222" stroke="#222" stroke-width="0.15" letter-spacing="0.35">##</text>
<text x="217.4" y="301" text-anchor="middle" font-size="8.4" font-weight="bold" fill="#222">**</text>
<rect x="224" y="357.4" width="20.3" height="6.6" rx="1.5" fill="#2c4584" fill-opacity="0.7"/>
<g fill="none" stroke="#a3173f" stroke-width="1.3"><circle cx="200.6" cy="299" r="2.05"/><circle cx="194" cy="328.1" r="2.05"/><circle cx="197.5" cy="330" r="2.05"/><circle cx="204.4" cy="325.6" r="2.05"/><circle cx="204" cy="336" r="2.05"/><circle cx="192.75" cy="343.75" r="2.05"/><circle cx="209.4" cy="342.25" r="2.05"/><circle cx="198.1" cy="345" r="2.05"/><circle cx="203.5" cy="344.75" r="2.05"/><circle cx="195" cy="350.6" r="2.05"/><circle cx="199.75" cy="348.75" r="2.05"/><circle cx="204.4" cy="349.4" r="2.05"/><circle cx="206.9" cy="352.5" r="2.05"/><circle cx="198.1" cy="353.1" r="2.05"/><circle cx="202.5" cy="353.1" r="2.05"/><circle cx="197.5" cy="356.9" r="2.05"/><circle cx="204.4" cy="356.25" r="2.05"/><circle cx="195.6" cy="360.6" r="2.05"/><circle cx="200" cy="360" r="2.05"/><circle cx="206.9" cy="359" r="2.05"/><circle cx="202.5" cy="361.9" r="2.05"/></g>
<g fill="none" stroke="#3d4c7a" stroke-width="1.3"><rect x="231.95" y="302.85" width="4.3" height="4.3"/><rect x="231.95" y="340.1" width="4.3" height="4.3"/><rect x="224.1" y="349.75" width="4.3" height="4.3"/><rect x="239.75" y="348.45" width="4.3" height="4.3"/><rect x="228.45" y="351.6" width="4.3" height="4.3"/><rect x="232.25" y="352.85" width="4.3" height="4.3"/><rect x="235.95" y="350.95" width="4.3" height="4.3"/><rect x="223.85" y="355.45" width="4.3" height="4.3"/><rect x="227.25" y="355.45" width="4.3" height="4.3"/><rect x="230.65" y="355.45" width="4.3" height="4.3"/><rect x="234.05" y="355.45" width="4.3" height="4.3"/><rect x="237.45" y="355.45" width="4.3" height="4.3"/><rect x="240.85" y="355.45" width="4.3" height="4.3"/><rect x="223.35" y="357.45" width="4.3" height="4.3"/><rect x="226.35" y="357.45" width="4.3" height="4.3"/><rect x="229.35" y="357.45" width="4.3" height="4.3"/><rect x="232.35" y="357.45" width="4.3" height="4.3"/><rect x="235.35" y="357.45" width="4.3" height="4.3"/><rect x="238.35" y="357.45" width="4.3" height="4.3"/><rect x="241.35" y="357.45" width="4.3" height="4.3"/><rect x="224.85" y="359.35" width="4.3" height="4.3"/><rect x="227.85" y="359.35" width="4.3" height="4.3"/><rect x="230.85" y="359.35" width="4.3" height="4.3"/><rect x="233.85" y="359.35" width="4.3" height="4.3"/><rect x="236.85" y="359.35" width="4.3" height="4.3"/><rect x="239.85" y="359.35" width="4.3" height="4.3"/></g>
<text x="347" y="280.4" text-anchor="middle" font-size="8.95" font-weight="bold" font-style="italic" fill="#000">WNT3</text>
<path d="M313.5 285V361.75M310.7 288H313.5M310.7 306.25H313.5M310.7 325H313.5M310.7 343.25H313.5M310.7 361.75H313.5M312.9 361.75H380M330.5 361.75V364.35M363.8 361.75V364.35" stroke="#000" stroke-width="1.3" fill="none"/>
<text class="t" x="307.9" y="290.3" text-anchor="end" font-size="6.6" fill="#2a2a2a">8<tspan font-size="7.92">×</tspan>10<tspan font-size="4.22" dy="-2.4">−4</tspan></text>
<text class="t" x="307.9" y="308.55" text-anchor="end" font-size="6.6" fill="#2a2a2a">6<tspan font-size="7.92">×</tspan>10<tspan font-size="4.22" dy="-2.4">−4</tspan></text>
<text class="t" x="307.9" y="327.3" text-anchor="end" font-size="6.6" fill="#2a2a2a">4<tspan font-size="7.92">×</tspan>10<tspan font-size="4.22" dy="-2.4">−4</tspan></text>
<text class="t" x="307.9" y="345.55" text-anchor="end" font-size="6.6" fill="#2a2a2a">2<tspan font-size="7.92">×</tspan>10<tspan font-size="4.22" dy="-2.4">−4</tspan></text>
<text class="t" x="307.9" y="364.05" text-anchor="end" font-size="6.6" fill="#2a2a2a">0</text>
<text class="yl" transform="translate(282.6 323.5) rotate(-90)" text-anchor="middle" font-size="8.4" textLength="66.5" lengthAdjust="spacingAndGlyphs" fill="#2a2a2a">Relative gene expression</text>
<text class="t" x="330.5" y="374.35" text-anchor="middle" font-size="6.3" fill="#2a2a2a">Control</text>
<text class="t" x="363.8" y="374.35" text-anchor="middle" font-size="6.3" fill="#2a2a2a">Sepsis</text>
<path d="M330.5 292.5H363.8" stroke="#111" stroke-width="1.1"/>
<text x="347.32" y="290.4" text-anchor="middle" font-size="7.1" font-weight="bold" font-style="italic" fill="#222" stroke="#222" stroke-width="0.15" letter-spacing="0.35">##</text>
<text x="347.15" y="301" text-anchor="middle" font-size="8.4" font-weight="bold" fill="#222">**</text>
<rect x="324.5" y="359.2" width="14.5" height="4.4" rx="1.5" fill="#b5163f" fill-opacity="0.3"/>
<rect x="354.5" y="359.4" width="19.3" height="4.4" rx="1.5" fill="#2c4584" fill-opacity="0.4"/>
<g fill="none" stroke="#a3173f" stroke-width="1.3"><circle cx="330.6" cy="308.75" r="2.05"/><circle cx="330.6" cy="321" r="2.05"/><circle cx="330.6" cy="332.25" r="2.05"/><circle cx="322.5" cy="336" r="2.05"/><circle cx="338.75" cy="333.75" r="2.05"/><circle cx="327.5" cy="340.6" r="2.05"/><circle cx="333.5" cy="339.4" r="2.05"/><circle cx="322.75" cy="350.6" r="2.05"/><circle cx="326.9" cy="351.9" r="2.05"/><circle cx="330.6" cy="353.1" r="2.05"/><circle cx="334.4" cy="351.9" r="2.05"/><circle cx="338.5" cy="349.75" r="2.05"/><circle cx="322.5" cy="356.9" r="2.05"/><circle cx="326.25" cy="357.5" r="2.05"/><circle cx="338.1" cy="357.5" r="2.05"/><circle cx="326" cy="359.8" r="2.05"/><circle cx="327.6" cy="359.8" r="2.05"/><circle cx="329.2" cy="359.8" r="2.05"/><circle cx="330.8" cy="359.8" r="2.05"/><circle cx="332.4" cy="359.8" r="2.05"/><circle cx="334" cy="359.8" r="2.05"/><circle cx="335.6" cy="359.8" r="2.05"/><circle cx="325.5" cy="361.6" r="2.05"/><circle cx="327" cy="361.6" r="2.05"/><circle cx="328.5" cy="361.6" r="2.05"/><circle cx="330" cy="361.6" r="2.05"/><circle cx="331.5" cy="361.6" r="2.05"/><circle cx="333" cy="361.6" r="2.05"/><circle cx="334.5" cy="361.6" r="2.05"/><circle cx="336" cy="361.6" r="2.05"/><circle cx="337.5" cy="361.6" r="2.05"/></g>
<g fill="none" stroke="#3d4c7a" stroke-width="1.3"><rect x="361.85" y="326.85" width="4.3" height="4.3"/><rect x="358.45" y="337.25" width="4.3" height="4.3"/><rect x="365.35" y="335.95" width="4.3" height="4.3"/><rect x="361.85" y="347.25" width="4.3" height="4.3"/><rect x="353.45" y="354.75" width="4.3" height="4.3"/><rect x="369.75" y="356.6" width="4.3" height="4.3"/><rect x="354.85" y="358.15" width="4.3" height="4.3"/><rect x="356.45" y="358.15" width="4.3" height="4.3"/><rect x="358.05" y="358.15" width="4.3" height="4.3"/><rect x="359.65" y="358.15" width="4.3" height="4.3"/><rect x="361.25" y="358.15" width="4.3" height="4.3"/><rect x="362.85" y="358.15" width="4.3" height="4.3"/><rect x="364.45" y="358.15" width="4.3" height="4.3"/><rect x="366.05" y="358.15" width="4.3" height="4.3"/><rect x="367.65" y="358.15" width="4.3" height="4.3"/><rect x="353.35" y="359.65" width="4.3" height="4.3"/><rect x="354.85" y="359.65" width="4.3" height="4.3"/><rect x="356.35" y="359.65" width="4.3" height="4.3"/><rect x="357.85" y="359.65" width="4.3" height="4.3"/><rect x="359.35" y="359.65" width="4.3" height="4.3"/><rect x="360.85" y="359.65" width="4.3" height="4.3"/><rect x="362.35" y="359.65" width="4.3" height="4.3"/><rect x="363.85" y="359.65" width="4.3" height="4.3"/><rect x="365.35" y="359.65" width="4.3" height="4.3"/><rect x="366.85" y="359.65" width="4.3" height="4.3"/><rect x="368.35" y="359.65" width="4.3" height="4.3"/><rect x="369.85" y="359.65" width="4.3" height="4.3"/></g>
<text x="91.6" y="392.6" text-anchor="middle" font-size="8.95" font-weight="bold" font-style="italic" fill="#000">WNT6</text>
<path d="M58.1 398V423M55.1 423H61.1M58.1 427V475M55.1 427H61.1M55.3 400.5H58.1M55.3 410.5H58.1M55.3 421.25H58.1M55.3 427.5H58.1M55.3 443.25H58.1M55.3 458.75H58.1M55.3 474.5H58.1M57.5 475H124.6M75.1 475V477.6M108.4 475V477.6" stroke="#000" stroke-width="1.3" fill="none"/>
<text class="t" x="52.5" y="402.8" text-anchor="end" font-size="6.6" fill="#2a2a2a">6<tspan font-size="7.92">×</tspan>10<tspan font-size="4.22" dy="-2.4">−3</tspan></text>
<text class="t" x="52.5" y="412.8" text-anchor="end" font-size="6.6" fill="#2a2a2a">5<tspan font-size="7.92">×</tspan>10<tspan font-size="4.22" dy="-2.4">−3</tspan></text>
<text class="t" x="52.5" y="423.55" text-anchor="end" font-size="6.6" fill="#2a2a2a">4<tspan font-size="7.92">×</tspan>10<tspan font-size="4.22" dy="-2.4">−3</tspan></text>
<text class="t" x="52.5" y="429.8" text-anchor="end" font-size="6.6" fill="#2a2a2a">3<tspan font-size="7.92">×</tspan>10<tspan font-size="4.22" dy="-2.4">−4</tspan></text>
<text class="t" x="52.5" y="445.55" text-anchor="end" font-size="6.6" fill="#2a2a2a">2<tspan font-size="7.92">×</tspan>10<tspan font-size="4.22" dy="-2.4">−4</tspan></text>
<text class="t" x="52.5" y="461.05" text-anchor="end" font-size="6.6" fill="#2a2a2a">1<tspan font-size="7.92">×</tspan>10<tspan font-size="4.22" dy="-2.4">−4</tspan></text>
<text class="t" x="52.5" y="476.8" text-anchor="end" font-size="6.6" fill="#2a2a2a">0</text>
<text class="yl" transform="translate(26.9 438.5) rotate(-90)" text-anchor="middle" font-size="8.4" textLength="66.5" lengthAdjust="spacingAndGlyphs" fill="#2a2a2a">Relative gene expression</text>
<text class="t" x="75.1" y="487.6" text-anchor="middle" font-size="6.3" fill="#2a2a2a">Control</text>
<text class="t" x="108.4" y="487.6" text-anchor="middle" font-size="6.3" fill="#2a2a2a">Sepsis</text>
<path d="M75.1 404.5H108.4" stroke="#111" stroke-width="1.1"/>
<text x="91.75" y="413" text-anchor="middle" font-size="8.4" font-weight="bold" fill="#222">****</text>
<rect x="97.6" y="472.4" width="21.4" height="5.2" rx="1.5" fill="#2c4584" fill-opacity="0.85"/>
<polygon points="66,466 84,464 85,476 75,478.5 66,476" fill="#b5163f" fill-opacity="0.3"/>
<g fill="none" stroke="#a3173f" stroke-width="1.3"><circle cx="78.1" cy="432.2" r="2.05"/><circle cx="71.2" cy="438.1" r="2.05"/><circle cx="66.3" cy="453.8" r="2.05"/><circle cx="74.4" cy="451.9" r="2.05"/><circle cx="83" cy="453.2" r="2.05"/><circle cx="77.7" cy="457.1" r="2.05"/><circle cx="71.8" cy="459.75" r="2.05"/><circle cx="71.2" cy="461.7" r="2.05"/><circle cx="69.2" cy="467" r="2.05"/><circle cx="73.1" cy="467.6" r="2.05"/><circle cx="79.7" cy="465.7" r="2.05"/><circle cx="67.9" cy="471.6" r="2.05"/><circle cx="73.1" cy="471.6" r="2.05"/><circle cx="78.4" cy="470.9" r="2.05"/><circle cx="81.7" cy="471.6" r="2.05"/><circle cx="70.5" cy="474.3" r="2.05"/><circle cx="75.5" cy="474.8" r="2.05"/><circle cx="79.7" cy="474.3" r="2.05"/><circle cx="75.1" cy="469.6" r="2.05"/><circle cx="67.5" cy="473" r="2.05"/><circle cx="83" cy="473" r="2.05"/><circle cx="73" cy="476" r="2.05"/><circle cx="77.5" cy="476.2" r="2.05"/><circle cx="82.5" cy="468.5" r="2.05"/><circle cx="70" cy="470" r="2.05"/><circle cx="76.5" cy="472.5" r="2.05"/></g>
<g fill="none" stroke="#3d4c7a" stroke-width="1.3"><rect x="105.75" y="406.75" width="4.3" height="4.3"/><rect x="101.15" y="468.1" width="4.3" height="4.3"/><rect x="110.15" y="468.1" width="4.3" height="4.3"/><rect x="98.05" y="471.45" width="4.3" height="4.3"/><rect x="99.85" y="471.45" width="4.3" height="4.3"/><rect x="101.65" y="471.45" width="4.3" height="4.3"/><rect x="103.45" y="471.45" width="4.3" height="4.3"/><rect x="105.25" y="471.45" width="4.3" height="4.3"/><rect x="107.05" y="471.45" width="4.3" height="4.3"/><rect x="108.85" y="471.45" width="4.3" height="4.3"/><rect x="110.65" y="471.45" width="4.3" height="4.3"/><rect x="112.45" y="471.45" width="4.3" height="4.3"/><rect x="114.25" y="471.45" width="4.3" height="4.3"/><rect x="98.05" y="473.25" width="4.3" height="4.3"/><rect x="99.85" y="473.25" width="4.3" height="4.3"/><rect x="101.65" y="473.25" width="4.3" height="4.3"/><rect x="103.45" y="473.25" width="4.3" height="4.3"/><rect x="105.25" y="473.25" width="4.3" height="4.3"/><rect x="107.05" y="473.25" width="4.3" height="4.3"/><rect x="108.85" y="473.25" width="4.3" height="4.3"/><rect x="110.65" y="473.25" width="4.3" height="4.3"/><rect x="112.45" y="473.25" width="4.3" height="4.3"/><rect x="114.25" y="473.25" width="4.3" height="4.3"/></g>
<text x="217" y="392.6" text-anchor="middle" font-size="8.95" font-weight="bold" font-style="italic" fill="#000">WNT7A</text>
<path d="M183.5 398.75V421.25M180.5 421.25H186.5M183.5 427.5V475M180.5 427.5H186.5M180.7 401.25H183.5M180.7 411.25H183.5M180.7 421.25H183.5M180.7 428H183.5M180.7 439.5H183.5M180.7 451.25H183.5M180.7 463H183.5M180.7 474.5H183.5M182.9 475H250M200.5 475V477.6M233.8 475V477.6" stroke="#000" stroke-width="1.3" fill="none"/>
<text class="t" x="177.9" y="403.55" text-anchor="end" font-size="6.6" fill="#2a2a2a">0.4</text>
<text class="t" x="177.9" y="413.55" text-anchor="end" font-size="6.6" fill="#2a2a2a">0.3</text>
<text class="t" x="177.9" y="423.55" text-anchor="end" font-size="6.6" fill="#2a2a2a">0.2</text>
<text class="t" x="177.9" y="430.3" text-anchor="end" font-size="6.6" fill="#2a2a2a">0.12</text>
<text class="t" x="177.9" y="441.8" text-anchor="end" font-size="6.6" fill="#2a2a2a">0.09</text>
<text class="t" x="177.9" y="453.55" text-anchor="end" font-size="6.6" fill="#2a2a2a">0.06</text>
<text class="t" x="177.9" y="465.3" text-anchor="end" font-size="6.6" fill="#2a2a2a">0.03</text>
<text class="t" x="177.9" y="476.8" text-anchor="end" font-size="6.6" fill="#2a2a2a">0.00</text>
<text class="yl" transform="translate(159.3 436.7) rotate(-90)" text-anchor="middle" font-size="8.4" textLength="66.5" lengthAdjust="spacingAndGlyphs" fill="#2a2a2a">Relative gene expression</text>
<text class="t" x="200.5" y="487.6" text-anchor="middle" font-size="6.3" fill="#2a2a2a">Control</text>
<text class="t" x="233.8" y="487.6" text-anchor="middle" font-size="6.3" fill="#2a2a2a">Sepsis</text>
<path d="M200.5 405.75H233.8" stroke="#111" stroke-width="1.1"/>
<text x="217.32" y="403.65" text-anchor="middle" font-size="7.1" font-weight="bold" font-style="italic" fill="#222" stroke="#222" stroke-width="0.15" letter-spacing="0.35">#</text>
<text x="217.15" y="414.25" text-anchor="middle" font-size="8.4" font-weight="bold" fill="#222">****</text>
<path d="M193.4 446.6L200.7 452.6L209 446.9" fill="none" stroke="#b5163f" stroke-width="2.0" stroke-opacity="0.35" stroke-linecap="round"/>
<polygon points="225,472 244,472 240,477.2 228,477.2" fill="#2c4584" fill-opacity="0.55"/>
<g fill="none" stroke="#a3173f" stroke-width="1.3"><circle cx="200.5" cy="418.4" r="2.05"/><circle cx="200.5" cy="428.9" r="2.05"/><circle cx="197.1" cy="433.1" r="2.05"/><circle cx="204.4" cy="437.4" r="2.05"/><circle cx="193.1" cy="446.4" r="2.05"/><circle cx="194.62" cy="447.68" r="2.05"/><circle cx="196.14" cy="448.96" r="2.05"/><circle cx="197.66" cy="450.24" r="2.05"/><circle cx="199.18" cy="451.52" r="2.05"/><circle cx="200.7" cy="452.8" r="2.05"/><circle cx="202.42" cy="451.6" r="2.05"/><circle cx="204.14" cy="450.4" r="2.05"/><circle cx="205.86" cy="449.2" r="2.05"/><circle cx="207.58" cy="448" r="2.05"/><circle cx="209.3" cy="446.8" r="2.05"/><circle cx="192.9" cy="457.1" r="2.05"/><circle cx="196.8" cy="459.75" r="2.05"/><circle cx="200.75" cy="460.1" r="2.05"/><circle cx="204.7" cy="458" r="2.05"/><circle cx="208.6" cy="455.2" r="2.05"/><circle cx="193.9" cy="462" r="2.05"/><circle cx="207.6" cy="465" r="2.05"/><circle cx="200.5" cy="468" r="2.05"/></g>
<g fill="none" stroke="#3d4c7a" stroke-width="1.3"><rect x="231.7" y="409.95" width="4.3" height="4.3"/><rect x="231.7" y="426.45" width="4.3" height="4.3"/><rect x="232.25" y="449.6" width="4.3" height="4.3"/><rect x="235.45" y="455.05" width="4.3" height="4.3"/><rect x="228.55" y="457.95" width="4.3" height="4.3"/><rect x="240.35" y="460.55" width="4.3" height="4.3"/><rect x="223.95" y="462.55" width="4.3" height="4.3"/><rect x="228.25" y="463.75" width="4.3" height="4.3"/><rect x="231.95" y="464.6" width="4.3" height="4.3"/><rect x="235.75" y="463.15" width="4.3" height="4.3"/><rect x="223.65" y="467.75" width="4.3" height="4.3"/><rect x="227.65" y="468.35" width="4.3" height="4.3"/><rect x="232.25" y="468.65" width="4.3" height="4.3"/><rect x="236.35" y="467.75" width="4.3" height="4.3"/><rect x="240.95" y="467.45" width="4.3" height="4.3"/><rect x="224.85" y="471.05" width="4.3" height="4.3"/><rect x="227.65" y="471.05" width="4.3" height="4.3"/><rect x="230.45" y="471.05" width="4.3" height="4.3"/><rect x="233.25" y="471.05" width="4.3" height="4.3"/><rect x="236.05" y="471.05" width="4.3" height="4.3"/><rect x="238.85" y="471.05" width="4.3" height="4.3"/><rect x="226.85" y="473.25" width="4.3" height="4.3"/><rect x="229.25" y="473.25" width="4.3" height="4.3"/><rect x="231.65" y="473.25" width="4.3" height="4.3"/><rect x="234.05" y="473.25" width="4.3" height="4.3"/><rect x="236.45" y="473.25" width="4.3" height="4.3"/></g>
<g fill="#fff" stroke="#a3173f" stroke-width="1.3"><circle cx="193.1" cy="446.4" r="2.05"/><circle cx="209.3" cy="446.8" r="2.05"/></g>
<text x="347" y="392.6" text-anchor="middle" font-size="8.95" font-weight="bold" font-style="italic" fill="#000">WNT9A</text>
<path d="M313.5 398.75V415M310.5 415H316.5M313.5 420.5V475M310.5 420.5H316.5M310.7 401.25H313.5M310.7 408H313.5M310.7 414.5H313.5M310.7 426.25H313.5M310.7 438.25H313.5M310.7 450.5H313.5M310.7 462.5H313.5M310.7 475H313.5M312.9 475H380M330.5 475V477.6M363.8 475V477.6" stroke="#000" stroke-width="1.3" fill="none"/>
<text class="t" x="307.9" y="403.55" text-anchor="end" font-size="6.6" fill="#2a2a2a">8<tspan font-size="7.92">×</tspan>10<tspan font-size="4.22" dy="-2.4">−2</tspan></text>
<text class="t" x="307.9" y="410.3" text-anchor="end" font-size="6.6" fill="#2a2a2a">7<tspan font-size="7.92">×</tspan>10<tspan font-size="4.22" dy="-2.4">−2</tspan></text>
<text class="t" x="307.9" y="416.8" text-anchor="end" font-size="6.6" fill="#2a2a2a">6<tspan font-size="7.92">×</tspan>10<tspan font-size="4.22" dy="-2.4">−2</tspan></text>
<text class="t" x="307.9" y="428.55" text-anchor="end" font-size="6.6" fill="#2a2a2a">8<tspan font-size="7.92">×</tspan>10<tspan font-size="4.22" dy="-2.4">−3</tspan></text>
<text class="t" x="307.9" y="440.55" text-anchor="end" font-size="6.6" fill="#2a2a2a">6<tspan font-size="7.92">×</tspan>10<tspan font-size="4.22" dy="-2.4">−3</tspan></text>
<text class="t" x="307.9" y="452.8" text-anchor="end" font-size="6.6" fill="#2a2a2a">4<tspan font-size="7.92">×</tspan>10<tspan font-size="4.22" dy="-2.4">−3</tspan></text>
<text class="t" x="307.9" y="464.8" text-anchor="end" font-size="6.6" fill="#2a2a2a">2<tspan font-size="7.92">×</tspan>10<tspan font-size="4.22" dy="-2.4">−3</tspan></text>
<text class="t" x="307.9" y="477.3" text-anchor="end" font-size="6.6" fill="#2a2a2a">0</text>
<text class="yl" transform="translate(282.8 436.7) rotate(-90)" text-anchor="middle" font-size="8.4" textLength="66.5" lengthAdjust="spacingAndGlyphs" fill="#2a2a2a">Relative gene expression</text>
<text class="t" x="330.5" y="487.6" text-anchor="middle" font-size="6.3" fill="#2a2a2a">Control</text>
<text class="t" x="363.8" y="487.6" text-anchor="middle" font-size="6.3" fill="#2a2a2a">Sepsis</text>
<path d="M330.5 403.75H363.8" stroke="#111" stroke-width="1.1"/>
<text x="347.15" y="412.25" text-anchor="middle" font-size="8.4" font-weight="bold" fill="#222">**</text>
<path d="M322.5 469.5Q331 482 339.8 469.3" fill="none" stroke="#b5163f" stroke-width="3.6" stroke-opacity="0.8" stroke-linecap="round"/>
<rect x="353" y="472.4" width="21" height="5.6" rx="1.5" fill="#2c4584" fill-opacity="0.9"/>
<g fill="none" stroke="#a3173f" stroke-width="1.3"><circle cx="330.5" cy="452.3" r="2.05"/><circle cx="323.9" cy="465" r="2.05"/><circle cx="337.6" cy="464.3" r="2.05"/><circle cx="330.5" cy="467.6" r="2.05"/><circle cx="322.3" cy="469.3" r="2.05"/><circle cx="324.04" cy="471.59" r="2.05"/><circle cx="325.78" cy="473.36" r="2.05"/><circle cx="327.53" cy="474.62" r="2.05"/><circle cx="329.28" cy="475.38" r="2.05"/><circle cx="331.02" cy="475.62" r="2.05"/><circle cx="332.78" cy="475.36" r="2.05"/><circle cx="334.53" cy="474.58" r="2.05"/><circle cx="336.28" cy="473.3" r="2.05"/><circle cx="338.04" cy="471.5" r="2.05"/><circle cx="339.8" cy="469.2" r="2.05"/><circle cx="323.5" cy="471.5" r="2.05"/><circle cx="326" cy="474.14" r="2.05"/><circle cx="328.5" cy="475.72" r="2.05"/><circle cx="331" cy="476.25" r="2.05"/><circle cx="333.5" cy="475.72" r="2.05"/><circle cx="336" cy="474.14" r="2.05"/><circle cx="338.5" cy="471.5" r="2.05"/></g>
<g fill="none" stroke="#3d4c7a" stroke-width="1.3"><rect x="361.7" y="405.95" width="4.3" height="4.3"/><rect x="361.7" y="418.85" width="4.3" height="4.3"/><rect x="354.25" y="471.45" width="4.3" height="4.3"/><rect x="355.75" y="471.45" width="4.3" height="4.3"/><rect x="357.25" y="471.45" width="4.3" height="4.3"/><rect x="358.75" y="471.45" width="4.3" height="4.3"/><rect x="360.25" y="471.45" width="4.3" height="4.3"/><rect x="361.75" y="471.45" width="4.3" height="4.3"/><rect x="363.25" y="471.45" width="4.3" height="4.3"/><rect x="364.75" y="471.45" width="4.3" height="4.3"/><rect x="366.25" y="471.45" width="4.3" height="4.3"/><rect x="367.75" y="471.45" width="4.3" height="4.3"/><rect x="369.25" y="471.45" width="4.3" height="4.3"/><rect x="354.25" y="473.25" width="4.3" height="4.3"/><rect x="355.75" y="473.25" width="4.3" height="4.3"/><rect x="357.25" y="473.25" width="4.3" height="4.3"/><rect x="358.75" y="473.25" width="4.3" height="4.3"/><rect x="360.25" y="473.25" width="4.3" height="4.3"/><rect x="361.75" y="473.25" width="4.3" height="4.3"/><rect x="363.25" y="473.25" width="4.3" height="4.3"/><rect x="364.75" y="473.25" width="4.3" height="4.3"/><rect x="366.25" y="473.25" width="4.3" height="4.3"/><rect x="367.75" y="473.25" width="4.3" height="4.3"/><rect x="369.25" y="473.25" width="4.3" height="4.3"/></g>
<text x="91.6" y="505.8" text-anchor="middle" font-size="8.95" font-weight="bold" font-style="italic" fill="#000">WNT10A</text>
<path d="M58.1 511.25V533.75M55.1 533.75H61.1M58.1 540V588M55.1 540H61.1M55.3 513.75H58.1M55.3 524.5H58.1M55.3 540.5H58.1M55.3 552.5H58.1M55.3 564.5H58.1M55.3 576.25H58.1M55.3 588H58.1M57.5 588H124.6M75.1 588V590.6M108.4 588V590.6" stroke="#000" stroke-width="1.3" fill="none"/>
<text class="t" x="52.5" y="516.05" text-anchor="end" font-size="6.6" fill="#2a2a2a">0.020</text>
<text class="t" x="52.5" y="526.8" text-anchor="end" font-size="6.6" fill="#2a2a2a">0.015</text>
<text class="t" x="52.5" y="542.8" text-anchor="end" font-size="6.6" fill="#2a2a2a">0.008</text>
<text class="t" x="52.5" y="554.8" text-anchor="end" font-size="6.6" fill="#2a2a2a">0.006</text>
<text class="t" x="52.5" y="566.8" text-anchor="end" font-size="6.6" fill="#2a2a2a">0.004</text>
<text class="t" x="52.5" y="578.55" text-anchor="end" font-size="6.6" fill="#2a2a2a">0.002</text>
<text class="t" x="52.5" y="590.3" text-anchor="end" font-size="6.6" fill="#2a2a2a">0.000</text>
<text class="yl" transform="translate(28.5 549.3) rotate(-90)" text-anchor="middle" font-size="8.4" textLength="66.5" lengthAdjust="spacingAndGlyphs" fill="#2a2a2a">Relative gene expression</text>
<text class="t" x="75.1" y="600.6" text-anchor="middle" font-size="6.3" fill="#2a2a2a">Control</text>
<text class="t" x="108.4" y="600.6" text-anchor="middle" font-size="6.3" fill="#2a2a2a">Sepsis</text>
<path d="M75.1 518.75H108.4" stroke="#111" stroke-width="1.1"/>
<text x="91.75" y="527.25" text-anchor="middle" font-size="8.4" font-weight="bold" fill="#222">**</text>
<path d="M97.4 579.8L97.4 583Q98 590.6 108.2 590.6Q118.4 590.6 118.6 583L118.6 579.8L113.4 579.8Q113.2 584.6 108.4 584.6Q103.6 584.6 103.4 579.8Z" fill="#2c4584" fill-opacity="0.9"/>
<g fill="none" stroke="#a3173f" stroke-width="1.3"><circle cx="71.2" cy="554.3" r="2.05"/><circle cx="77.7" cy="553" r="2.05"/><circle cx="81.7" cy="556.9" r="2.05"/><circle cx="64.6" cy="559.5" r="2.05"/><circle cx="68.1" cy="562.6" r="2.05"/><circle cx="74.7" cy="561.25" r="2.05"/><circle cx="81" cy="566.5" r="2.05"/><circle cx="74.7" cy="567.8" r="2.05"/><circle cx="71.2" cy="569.8" r="2.05"/><circle cx="68.5" cy="573.1" r="2.05"/><circle cx="73.1" cy="572.4" r="2.05"/><circle cx="78.4" cy="572.4" r="2.05"/><circle cx="66.6" cy="576.3" r="2.05"/><circle cx="71.8" cy="575.7" r="2.05"/><circle cx="76.4" cy="576.3" r="2.05"/><circle cx="81" cy="575.7" r="2.05"/><circle cx="83" cy="577.7" r="2.05"/><circle cx="69.2" cy="579.6" r="2.05"/><circle cx="73.1" cy="579.6" r="2.05"/><circle cx="79" cy="579" r="2.05"/><circle cx="74.4" cy="582.9" r="2.05"/><circle cx="78.4" cy="582.9" r="2.05"/></g>
<g fill="none" stroke="#3d4c7a" stroke-width="1.3"><rect x="98.85" y="521.45" width="4.3" height="4.3"/><rect x="105.75" y="525.65" width="4.3" height="4.3"/><rect x="112.75" y="521.95" width="4.3" height="4.3"/><rect x="105.75" y="545.55" width="4.3" height="4.3"/><rect x="98.85" y="557.35" width="4.3" height="4.3"/><rect x="105.75" y="560.45" width="4.3" height="4.3"/><rect x="112.75" y="560.05" width="4.3" height="4.3"/><rect x="105.75" y="570.25" width="4.3" height="4.3"/><rect x="97.65" y="579.65" width="4.3" height="4.3"/><rect x="113.45" y="579.95" width="4.3" height="4.3"/><rect x="99.05" y="582.85" width="4.3" height="4.3"/><rect x="112.35" y="582.85" width="4.3" height="4.3"/><rect x="101.85" y="585.35" width="4.3" height="4.3"/><rect x="106.05" y="585.85" width="4.3" height="4.3"/><rect x="110.15" y="585.35" width="4.3" height="4.3"/></g>
<text x="217" y="505.8" text-anchor="middle" font-size="8.95" font-weight="bold" font-style="italic" fill="#000">WNT10B</text>
<path d="M183.5 512V520M180.5 520H186.5M183.5 526.75V562M180.5 562H186.5M180.5 526.75H186.5M183.5 567V588M180.5 567H186.5M180.7 513.75H183.5M180.7 519.5H183.5M180.7 526.75H183.5M180.7 537H183.5M180.7 547H183.5M180.7 557H183.5M180.7 567.5H183.5M180.7 577.5H183.5M180.7 588H183.5M182.9 588H250M200.5 588V590.6M233.8 588V590.6" stroke="#000" stroke-width="1.3" fill="none"/>
<text class="t" x="177.9" y="516.05" text-anchor="end" font-size="6.6" fill="#2a2a2a">0.4</text>
<text class="t" x="177.9" y="521.8" text-anchor="end" font-size="6.6" fill="#2a2a2a">0.3</text>
<text class="t" x="177.9" y="529.05" text-anchor="end" font-size="6.6" fill="#2a2a2a">0.08</text>
<text class="t" x="177.9" y="539.3" text-anchor="end" font-size="6.6" fill="#2a2a2a">0.06</text>
<text class="t" x="177.9" y="549.3" text-anchor="end" font-size="6.6" fill="#2a2a2a">0.04</text>
<text class="t" x="177.9" y="559.3" text-anchor="end" font-size="6.6" fill="#2a2a2a">0.02</text>
<text class="t" x="177.9" y="569.8" text-anchor="end" font-size="6.6" fill="#2a2a2a">0.010</text>
<text class="t" x="177.9" y="579.8" text-anchor="end" font-size="6.6" fill="#2a2a2a">0.005</text>
<text class="t" x="177.9" y="590.3" text-anchor="end" font-size="6.6" fill="#2a2a2a">0.000</text>
<text class="yl" transform="translate(155.9 547.9) rotate(-90)" text-anchor="middle" font-size="8.4" textLength="66.5" lengthAdjust="spacingAndGlyphs" fill="#2a2a2a">Relative gene expression</text>
<text class="t" x="200.5" y="600.6" text-anchor="middle" font-size="6.3" fill="#2a2a2a">Control</text>
<text class="t" x="233.8" y="600.6" text-anchor="middle" font-size="6.3" fill="#2a2a2a">Sepsis</text>
<path d="M200.5 514.5H233.8" stroke="#111" stroke-width="1.1"/>
<text x="217.15" y="523" text-anchor="middle" font-size="8.4" font-weight="bold" fill="#222">*</text>
<path d="M192.5 558Q200.5 565.5 208.8 557.6" fill="none" stroke="#b5163f" stroke-width="3.0" stroke-opacity="0.65" stroke-linecap="round"/>
<rect x="225" y="584.6" width="18.5" height="5.8" rx="1.5" fill="#2c4584" fill-opacity="0.35"/>
<g fill="none" stroke="#a3173f" stroke-width="1.3"><circle cx="197.5" cy="548.1" r="2.05"/><circle cx="192.9" cy="557.3" r="2.05"/><circle cx="197.5" cy="556" r="2.05"/><circle cx="204" cy="554.7" r="2.05"/><circle cx="208" cy="553" r="2.05"/><circle cx="208.6" cy="557.3" r="2.05"/><circle cx="194.5" cy="558.8" r="2.05"/><circle cx="196.5" cy="560" r="2.05"/><circle cx="198.5" cy="560.9" r="2.05"/><circle cx="200.5" cy="561.4" r="2.05"/><circle cx="202.5" cy="561.2" r="2.05"/><circle cx="204.5" cy="560.5" r="2.05"/><circle cx="206.5" cy="559.4" r="2.05"/><circle cx="192.2" cy="571.1" r="2.05"/><circle cx="196.8" cy="571.75" r="2.05"/><circle cx="203.4" cy="572.1" r="2.05"/><circle cx="209.3" cy="571.1" r="2.05"/><circle cx="192.9" cy="574.4" r="2.05"/><circle cx="197.5" cy="574.8" r="2.05"/><circle cx="208" cy="574.4" r="2.05"/><circle cx="200.5" cy="580" r="2.05"/><circle cx="204.7" cy="580" r="2.05"/><circle cx="200.2" cy="573.5" r="2.05"/><circle cx="205.5" cy="573.8" r="2.05"/></g>
<g fill="none" stroke="#3d4c7a" stroke-width="1.3"><rect x="231.7" y="517.95" width="4.3" height="4.3"/><rect x="231.7" y="532.45" width="4.3" height="4.3"/><rect x="235.35" y="540.75" width="4.3" height="4.3"/><rect x="228.55" y="546.85" width="4.3" height="4.3"/><rect x="238.65" y="552.95" width="4.3" height="4.3"/><rect x="224.85" y="556.45" width="4.3" height="4.3"/><rect x="231.7" y="556.85" width="4.3" height="4.3"/><rect x="224.75" y="567.35" width="4.3" height="4.3"/><rect x="238.65" y="569.65" width="4.3" height="4.3"/><rect x="231.7" y="571.35" width="4.3" height="4.3"/><rect x="223.35" y="572.55" width="4.3" height="4.3"/><rect x="240.35" y="575.15" width="4.3" height="4.3"/><rect x="229.65" y="577.75" width="4.3" height="4.3"/><rect x="234.55" y="578.05" width="4.3" height="4.3"/><rect x="223.85" y="581.15" width="4.3" height="4.3"/><rect x="239.75" y="581.15" width="4.3" height="4.3"/><rect x="226.35" y="583.65" width="4.3" height="4.3"/><rect x="229.1" y="583.65" width="4.3" height="4.3"/><rect x="231.85" y="583.65" width="4.3" height="4.3"/><rect x="234.6" y="583.65" width="4.3" height="4.3"/><rect x="237.35" y="583.65" width="4.3" height="4.3"/><rect x="225.85" y="586.15" width="4.3" height="4.3"/><rect x="228.85" y="586.15" width="4.3" height="4.3"/><rect x="231.85" y="586.15" width="4.3" height="4.3"/><rect x="234.85" y="586.15" width="4.3" height="4.3"/><rect x="237.85" y="586.15" width="4.3" height="4.3"/></g>
<text x="347" y="505.8" text-anchor="middle" font-size="8.95" font-weight="bold" font-style="italic" fill="#000">WNT16</text>
<path d="M313.5 512V520M310.5 520H316.5M313.5 526.75V561.25M310.5 561.25H316.5M310.5 526.75H316.5M313.5 567V588M310.5 567H316.5M310.7 513.75H313.5M310.7 519.5H313.5M310.7 535.5H313.5M310.7 552.5H313.5M310.7 567.5H313.5M310.7 577.5H313.5M310.7 588H313.5M312.9 588H380M330.5 588V590.6M363.8 588V590.6" stroke="#000" stroke-width="1.3" fill="none"/>
<text class="t" x="307.9" y="516.05" text-anchor="end" font-size="6.6" fill="#2a2a2a">0.08</text>
<text class="t" x="307.9" y="521.8" text-anchor="end" font-size="6.6" fill="#2a2a2a">0.07</text>
<text class="t" x="307.9" y="537.8" text-anchor="end" font-size="6.6" fill="#2a2a2a">0.024</text>
<text class="t" x="307.9" y="554.8" text-anchor="end" font-size="6.6" fill="#2a2a2a">0.012</text>
<text class="t" x="307.9" y="569.8" text-anchor="end" font-size="6.6" fill="#2a2a2a">0.006</text>
<text class="t" x="307.9" y="579.8" text-anchor="end" font-size="6.6" fill="#2a2a2a">0.003</text>
<text class="t" x="307.9" y="590.3" text-anchor="end" font-size="6.6" fill="#2a2a2a">0.000</text>
<text class="yl" transform="translate(285.4 549) rotate(-90)" text-anchor="middle" font-size="8.4" textLength="66.5" lengthAdjust="spacingAndGlyphs" fill="#2a2a2a">Relative gene expression</text>
<text class="t" x="330.5" y="600.6" text-anchor="middle" font-size="6.3" fill="#2a2a2a">Control</text>
<text class="t" x="363.8" y="600.6" text-anchor="middle" font-size="6.3" fill="#2a2a2a">Sepsis</text>
<path d="M330.5 513.25H363.8" stroke="#111" stroke-width="1.1"/>
<text x="347.15" y="521.75" text-anchor="middle" font-size="8.4" font-weight="bold" fill="#222">****</text>
<rect x="353.6" y="585" width="17.2" height="5.3" rx="1.5" fill="#2c4584" fill-opacity="0.35"/>
<polygon points="322,552 339,552 337,561 330.5,563 324,561" fill="#b5163f" fill-opacity="0.35"/>
<g fill="none" stroke="#a3173f" stroke-width="1.3"><circle cx="330.5" cy="531.4" r="2.05"/><circle cx="327.5" cy="543.25" r="2.05"/><circle cx="322.9" cy="547.2" r="2.05"/><circle cx="334" cy="546.4" r="2.05"/><circle cx="338.6" cy="548.1" r="2.05"/><circle cx="326.2" cy="550.1" r="2.05"/><circle cx="335.4" cy="550.7" r="2.05"/><circle cx="327.6" cy="553.8" r="2.05"/><circle cx="331.5" cy="554.3" r="2.05"/><circle cx="333.5" cy="552.9" r="2.05"/><circle cx="323.5" cy="556.6" r="2.05"/><circle cx="338" cy="557.7" r="2.05"/><circle cx="326.8" cy="559.3" r="2.05"/><circle cx="330.8" cy="560.8" r="2.05"/><circle cx="334.7" cy="559.9" r="2.05"/><circle cx="329" cy="557" r="2.05"/><circle cx="332.5" cy="557.5" r="2.05"/><circle cx="336" cy="555" r="2.05"/><circle cx="325" cy="554" r="2.05"/><circle cx="323.9" cy="570.8" r="2.05"/><circle cx="337.6" cy="571.1" r="2.05"/><circle cx="330.5" cy="575.7" r="2.05"/></g>
<g fill="none" stroke="#3d4c7a" stroke-width="1.3"><rect x="361.7" y="516.15" width="4.3" height="4.3"/><rect x="365.15" y="532.85" width="4.3" height="4.3"/><rect x="358.15" y="538.45" width="4.3" height="4.3"/><rect x="358.15" y="545.35" width="4.3" height="4.3"/><rect x="365.15" y="548.15" width="4.3" height="4.3"/><rect x="355.05" y="567.15" width="4.3" height="4.3"/><rect x="353.05" y="571.75" width="4.3" height="4.3"/><rect x="361.7" y="570.05" width="4.3" height="4.3"/><rect x="368.35" y="568.35" width="4.3" height="4.3"/><rect x="370.35" y="573.55" width="4.3" height="4.3"/><rect x="359.1" y="576.65" width="4.3" height="4.3"/><rect x="364.55" y="578.15" width="4.3" height="4.3"/><rect x="365.15" y="581.85" width="4.3" height="4.3"/><rect x="370.65" y="583.35" width="4.3" height="4.3"/><rect x="353.35" y="584.25" width="4.3" height="4.3"/><rect x="355.95" y="584.25" width="4.3" height="4.3"/><rect x="358.55" y="584.25" width="4.3" height="4.3"/><rect x="361.15" y="584.25" width="4.3" height="4.3"/><rect x="363.75" y="584.25" width="4.3" height="4.3"/><rect x="366.35" y="584.25" width="4.3" height="4.3"/><rect x="353.35" y="586.75" width="4.3" height="4.3"/><rect x="355.95" y="586.75" width="4.3" height="4.3"/><rect x="358.55" y="586.75" width="4.3" height="4.3"/><rect x="361.15" y="586.75" width="4.3" height="4.3"/><rect x="363.75" y="586.75" width="4.3" height="4.3"/><rect x="366.35" y="586.75" width="4.3" height="4.3"/></g>
</svg></body></html>
